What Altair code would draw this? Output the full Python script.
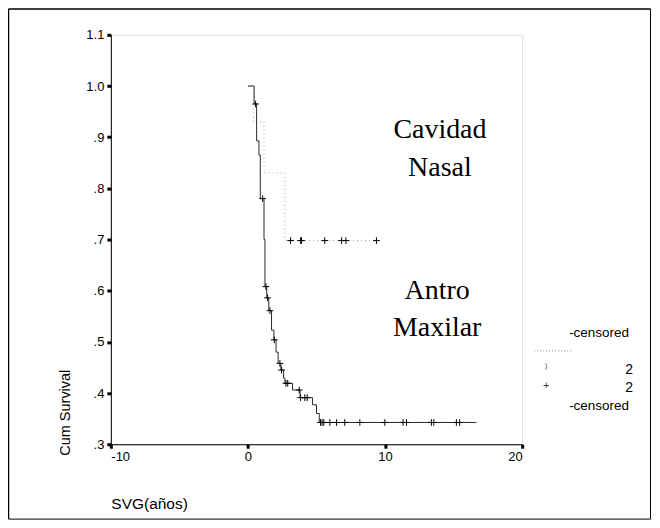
import altair as alt
import pandas as pd

# ---- Antro Maxilar (solid) Kaplan-Meier steps ----
antro_t = [0, 0.45, 0.63, 0.80, 0.90, 1.17, 1.24, 1.37, 1.52, 1.72, 1.89, 2.05, 2.20,
           2.40, 2.60, 2.70, 3.25, 3.80, 4.71, 5.00, 5.20, 16.66]
antro_s = [1.0, 0.965, 0.893, 0.865, 0.78, 0.70, 0.608, 0.586, 0.561, 0.523, 0.504, 0.48,
           0.458, 0.445, 0.429, 0.419, 0.406, 0.391, 0.377, 0.36, 0.3425, 0.3425]
antro_cens_t = [0.56, 1.07, 1.31, 1.43, 1.60, 1.92, 2.33, 2.45, 2.77, 2.90, 3.74, 3.84,
                4.15, 4.32, 5.29, 5.41, 5.53, 5.97, 6.46, 7.06, 8.16, 9.98, 11.31, 11.56,
                13.38, 13.55, 15.20, 15.44]
antro_cens_s = [0.965, 0.78, 0.608, 0.586, 0.561, 0.504, 0.458, 0.445, 0.419, 0.419,
                0.406, 0.391, 0.391, 0.391, 0.3425, 0.3425, 0.3425, 0.3425, 0.3425,
                0.3425, 0.3425, 0.3425, 0.3425, 0.3425, 0.3425, 0.3425, 0.3425, 0.3425]

# ---- Cavidad Nasal (dotted) Kaplan-Meier steps ----
nasal_t = [0, 0.40, 1.17, 2.70, 9.40]
nasal_s = [1.0, 0.93, 0.83, 0.698, 0.698]
nasal_cens_t = [3.11, 3.84, 3.91, 5.60, 6.83, 7.14, 9.37]
nasal_cens_s = [0.698, 0.698, 0.698, 0.698, 0.698, 0.698, 0.698]

# ---- annotations ----
label_text = ["Cavidad", "Nasal", "Antro", "Maxilar"]
label_t = [14.0, 14.0, 13.8, 13.8]
label_s = [0.914, 0.840, 0.600, 0.527]

y_ticks = [0.3, 0.4, 0.5, 0.6, 0.7, 0.8, 0.9, 1.0, 1.1]
x_ticks = [-10, 0, 10, 20]

legend_texts = ["-censored", "2", "2", "-censored"]
legend_symbols = [")", "+"]

antro = pd.DataFrame({"t": antro_t, "s": antro_s})
antro_c = pd.DataFrame({"t": antro_cens_t, "s": antro_cens_s})
nasal = pd.DataFrame({"t": nasal_t, "s": nasal_s})
nasal_c = pd.DataFrame({"t": nasal_cens_t, "s": nasal_cens_s})
labels = pd.DataFrame({"t": label_t, "s": label_s, "txt": label_text})
dummy = pd.DataFrame({"a": [0]})

SANS = "Liberation Sans"
SERIF = "Liberation Serif"

X = alt.X("t:Q", scale=alt.Scale(domain=[-10, 20], nice=False, zero=False),
          axis=alt.Axis(values=x_ticks, title="SVG(años)", grid=False,
                        labelExpr="datum.value < 0 ? '-' + abs(datum.value) : '' + datum.value",
                        labelFont=SANS, labelFontSize=13, labelColor="black",
                        labelPadding=2, tickSize=4, tickWidth=3, tickColor="black",
                        domainColor="black", titleFont=SANS, titleFontSize=15.5,
                        titleFontWeight="normal", titleColor="black",
                        titleAnchor="start", titleAlign="left", titleBaseline="middle",
                        titleX=0, titleY=59))
Y = alt.Y("s:Q", scale=alt.Scale(domain=[0.3, 1.1], nice=False, zero=False),
          axis=alt.Axis(values=y_ticks, title="Cum Survival", grid=False,
                        labelExpr="datum.value >= 1 ? format(datum.value, '.1f') : replace(format(datum.value, '.1f'), '0.', '.')",
                        labelFont=SANS, labelFontSize=13, labelColor="black",
                        labelPadding=3, tickSize=4, tickWidth=3, tickColor="black",
                        domainColor="black", titleFont=SANS, titleFontSize=14.5,
                        titleFontWeight="normal", titleColor="black", titleAngle=-90,
                        titleAlign="left", titleBaseline="middle",
                        titleX=-45, titleY=421))

plus = "M-1,0H1M0,-1V1"

nasal_line = alt.Chart(nasal).mark_line(interpolate="step-after", color="#a8a8a8",
                                        strokeWidth=1, strokeDash=[1, 3]).encode(x=X, y=Y)
antro_line = alt.Chart(antro).mark_line(interpolate="step-after", color="#2a2a2a",
                                        strokeWidth=1).encode(x=X, y=Y)
antro_pts = alt.Chart(antro_c).mark_point(shape=plus, size=45, filled=False,
                                          color="black", strokeWidth=1, opacity=1).encode(x=X, y=Y)
nasal_pts = alt.Chart(nasal_c).mark_point(shape=plus, size=45, filled=False,
                                          color="black", strokeWidth=1, opacity=1).encode(x=X, y=Y)
text_lbl = alt.Chart(labels).mark_text(font=SERIF, fontSize=28, color="black",
                                       align="center", baseline="middle").encode(x=X, y=Y, text="txt:N")

# legend (manual, reproduces the reference's layout)
leg = []
leg.append(alt.Chart(dummy).mark_text(text=legend_texts[0], font=SANS, fontSize=13.5, align="right",
                                      baseline="middle", color="black").encode(x=alt.value(519), y=alt.value(298.5)))
leg.append(alt.Chart(dummy).mark_rule(color="#8a8a8a", strokeDash=[1, 2], strokeWidth=1).encode(
    x=alt.value(424), x2=alt.value(461), y=alt.value(316.5)))
leg.append(alt.Chart(dummy).mark_text(text=legend_symbols[0], font=SANS, fontSize=8, align="center",
                                      baseline="middle", color="#555").encode(x=alt.value(436), y=alt.value(332)))
leg.append(alt.Chart(dummy).mark_text(text=legend_texts[1], font=SANS, fontSize=14, align="right",
                                      baseline="middle", color="black").encode(x=alt.value(523), y=alt.value(335.5)))
leg.append(alt.Chart(dummy).mark_text(text=legend_symbols[1], font=SANS, fontSize=11, align="center",
                                      baseline="middle", color="#333").encode(x=alt.value(436), y=alt.value(351.5)))
leg.append(alt.Chart(dummy).mark_text(text=legend_texts[2], font=SANS, fontSize=14, align="right",
                                      baseline="middle", color="black").encode(x=alt.value(523), y=alt.value(353.5)))
leg.append(alt.Chart(dummy).mark_text(text=legend_texts[3], font=SANS, fontSize=13.5, align="right",
                                      baseline="middle", color="black").encode(x=alt.value(519), y=alt.value(371.5)))

# outer figure frame
frame = [
    alt.Chart(dummy).mark_rule(color="black", strokeWidth=1.5).encode(x=alt.value(-102.5), x2=alt.value(540.5), y=alt.value(-26)),
    alt.Chart(dummy).mark_rule(color="black", strokeWidth=1.5).encode(x=alt.value(-102.5), y=alt.value(-26), y2=alt.value(485)),
    alt.Chart(dummy).mark_rule(color="black", strokeWidth=1).encode(x=alt.value(540.5), y=alt.value(-26), y2=alt.value(485)),
    alt.Chart(dummy).mark_rule(color="black", strokeWidth=1).encode(x=alt.value(-102.5), x2=alt.value(540.5), y=alt.value(485)),
]

chart = alt.layer(nasal_line, antro_line, antro_pts, nasal_pts, text_lbl, *leg, *frame).properties(
    width=412, height=410,
    padding={"left": 103, "top": 26.5, "right": 130, "bottom": 80},
    autosize=alt.AutoSizeParams(type="none"),
).configure_view(stroke="black", strokeWidth=1).configure(background="white")

chart.save("out.html", embed_options={"renderer": "svg", "actions": False})
